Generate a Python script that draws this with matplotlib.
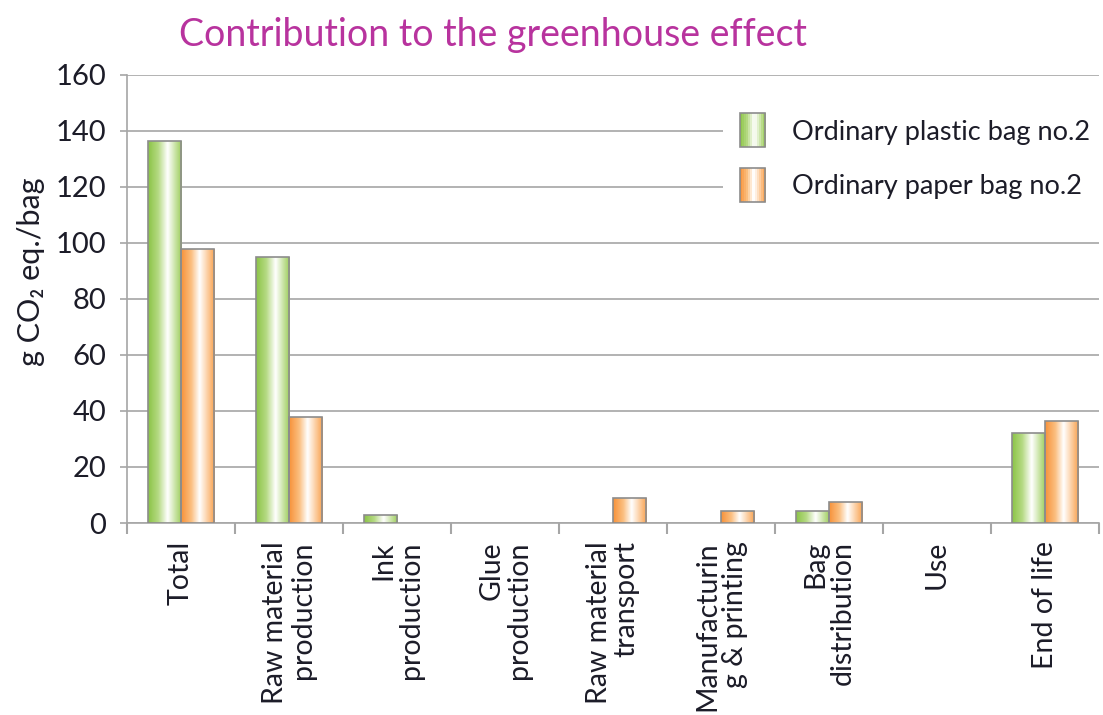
import matplotlib
matplotlib.use("Agg")
import matplotlib.pyplot as plt
import numpy as np
from matplotlib.colors import LinearSegmentedColormap
from matplotlib.patches import Rectangle
from matplotlib.legend_handler import HandlerBase

plt.rcParams['font.family'] = ['Lato', 'DejaVu Sans']

categories = ["Total", "Raw material\nproduction", "Ink\nproduction", "Glue\nproduction",
              "Raw material\ntransport", "Manufacturin\ng & printing", "Bag\ndistribution",
              "Use", "End of life"]
plastic = [136.5, 95, 2.8, 0, 0, 0, 4.3, 0, 32]
paper = [98, 38, 0, 0, 9, 4.3, 7.5, 0, 36.5]
series_names = ["Ordinary plastic bag no.2", "Ordinary paper bag no.2"]
yticks = [0, 20, 40, 60, 80, 100, 120, 140, 160]

green = ['#8cc447', '#b5da83', '#ffffff', '#9ccd5a']
orange = ['#f7923a', '#fbbf80', '#ffffff', '#f9a24f']
cmaps = [LinearSegmentedColormap.from_list('g', list(zip([0, 0.3, 0.58, 1], green))),
         LinearSegmentedColormap.from_list('o', list(zip([0, 0.3, 0.55, 1], orange)))]
edge = '#8c8c8c'
grid_c = '#a6a6a6'
txt_c = '#1c1c28'

fig = plt.figure(figsize=(11.03, 7.15), dpi=100)
ax = fig.add_axes([127/1103, 1-523/715, (1099-127)/1103, (523-75)/715])

x = np.arange(len(categories))
w = 0.31
grad = np.linspace(0, 1, 64).reshape(1, -1)
for si, vals in enumerate([plastic, paper]):
    offs = -w/2 if si == 0 else w/2
    lws = [1.2 if v > 0 else 0 for v in vals]
    bars = ax.bar(x + offs, vals, width=w, color='none', edgecolor=edge, linewidth=lws, zorder=4)
    for b in bars:
        h = b.get_height()
        if h <= 0:
            continue
        im = ax.imshow(grad, cmap=cmaps[si], extent=[b.get_x(), b.get_x()+b.get_width(), 0, h],
                       aspect='auto', zorder=3, interpolation='bilinear')
        im.set_clip_path(b)

ax.set_xlim(-0.5, len(categories)-0.5)
ax.set_ylim(0, 160)
ax.set_yticks(yticks)
ax.yaxis.grid(True, color=grid_c, linewidth=1.2, zorder=0)
ax.set_axisbelow(True)
for s in ['top', 'right']:
    ax.spines[s].set_visible(False)
for s in ['left', 'bottom']:
    ax.spines[s].set_color(grid_c)
    ax.spines[s].set_linewidth(1.2)

ax.set_xticks(x)
ax.set_xticklabels(categories, rotation=90, va='top', ha='center', multialignment='right',
                   fontsize=20.5, color=txt_c, linespacing=1.05)
ax.tick_params(axis='x', which='major', length=0, pad=13)
ax.set_xticks(np.arange(len(categories)+1) - 0.5, minor=True)
ax.tick_params(axis='x', which='minor', length=8, width=1.5, color=grid_c)
ax.tick_params(axis='y', length=5, width=1.2, color=grid_c, labelsize=21, labelcolor=txt_c, pad=10)


class GradHandler(HandlerBase):
    def __init__(self, cmap):
        super().__init__()
        self.cmap = cmap

    def create_artists(self, legend, orig_handle, xdescent, ydescent, width, height, fontsize, trans):
        arts = []
        n = 12
        y0 = -ydescent - height*0.2
        hh = height*1.4
        for i in range(n):
            r = Rectangle((width*i/n, y0), width/n + 0.3, hh,
                          facecolor=self.cmap((i+0.5)/n), edgecolor='none', transform=trans)
            arts.append(r)
        arts.append(Rectangle((0, y0), width, hh, facecolor='none',
                              edgecolor=edge, linewidth=1.2, transform=trans))
        return arts


h1 = Rectangle((0, 0), 1, 1)
h2 = Rectangle((0, 0), 1, 1)
leg = ax.legend([h1, h2], series_names, handler_map={h1: GradHandler(cmaps[0]), h2: GradHandler(cmaps[1])},
                loc='upper right', bbox_to_anchor=(1.008, 0.94), frameon=True, fancybox=False,
                facecolor='white', edgecolor='none', framealpha=1, fontsize=19.5,
                handlelength=0.95, handleheight=1.0, handletextpad=1.0, labelspacing=1.05,
                borderpad=0.6, borderaxespad=0)
for t in leg.get_texts():
    t.set_color(txt_c)
leg.set_zorder(5)

fig.text(179/1103, 1-35/715, "Contribution to the greenhouse effect", fontsize=27,
         color='#b8339e', ha='left', va='center')
fig.text(31/1103, 1-272/715, "g CO\u2082 eq./bag", rotation=90, fontsize=22, color=txt_c,
         ha='center', va='center')

fig.savefig("out.png", dpi=100)
